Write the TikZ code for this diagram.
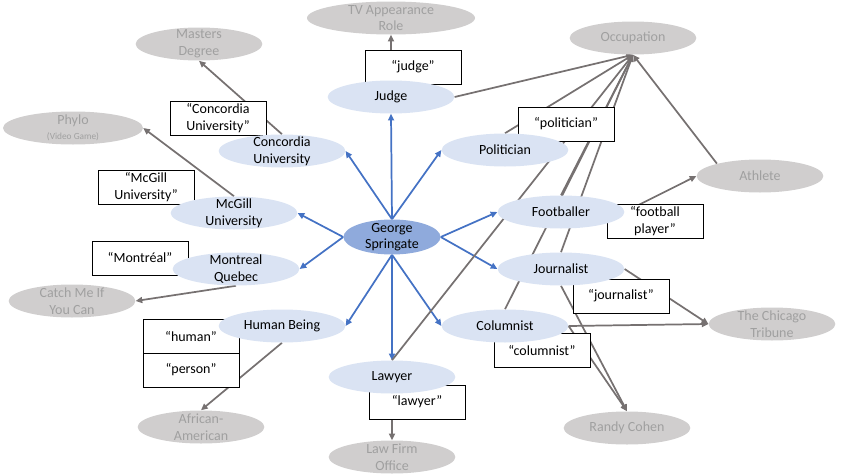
\documentclass[tikz,border=0pt]{standalone}
\usepackage{fontspec}
\setmainfont{Carlito}
\usetikzlibrary{arrows.meta,shapes.geometric,backgrounds}
\definecolor{entblue}{HTML}{DAE3F3}
\definecolor{hubblue}{HTML}{8FAADC}
\definecolor{relblue}{HTML}{4472C4}
\definecolor{clsgray}{HTML}{D0CECE}
\definecolor{clstext}{HTML}{A0A0A0}
\definecolor{lnkgray}{HTML}{767171}

\begin{document}
\begin{tikzpicture}[x=0.75pt, y=-0.75pt,
  every node/.style={font=\fontsize{10.5}{12.5}\selectfont, align=center},
  ent/.style={ellipse, fill=entblue, minimum width=95pt, minimum height=24.75pt, inner xsep=0pt, inner ysep=-3pt},
  hub/.style={ent, fill=hubblue, minimum width=72.75pt, minimum height=26.25pt},
  cls/.style={ent, fill=clsgray, text=clstext},
  lbl/.style={rectangle, draw=black, line width=0.75pt, fill=white, minimum width=72pt, minimum height=25.5pt, inner sep=0pt},
  rel/.style={draw=relblue, line width=1.3pt, -{Triangle[length=5pt,width=4.5pt]}},
  lnk/.style={draw=lnkgray, line width=1.3pt, -{Triangle[length=5pt,width=4.5pt]}}]
  \useasboundingbox (0,0) rectangle (844,475);

  % label boxes (under the ellipses)
  \node[lbl] (qjudge)      at (413,67)  {“judge”};
  \node[lbl] (qconcordia)  at (218,118) {“Concordia\\University”};
  \node[lbl] (qmcgill)     at (146,187) {“McGill\\University”};
  \node[lbl] (qmontreal)   at (140,258) {“Montréal”};
  \node[lbl] (qhuman)      at (191,336) {“human”};
  \node[lbl] (qperson)     at (191,370) {“person”};
  \node[lbl] (qlawyer)     at (417,402) {“lawyer”};
  \node[lbl] (qpolitician) at (566,124) {“politician”};
  \node[lbl] (qfootball)   at (655,221) {“football\\player”};
  \node[lbl] (qjournalist) at (621,296) {“journalist”};
  \node[lbl] (qcolumnist)  at (542,350) {“columnist”};

  % entity and its types
  \node[hub] (george)     at (392,237) {George\\Springate};
  \node[ent] (judge)      at (391,97)  {Judge};
  \node[ent] (concordia)  at (282,151) {Concordia\\University};
  \node[ent] (mcgill)     at (234,213) {McGill\\University};
  \node[ent] (montreal)   at (236,269) {Montreal\\Quebec};
  \node[ent] (human)      at (282,326) {Human Being};
  \node[ent] (lawyer)     at (392,377) {Lawyer};
  \node[ent] (columnist)  at (505,326) {Columnist};
  \node[ent] (journalist) at (561,269) {Journalist};
  \node[ent] (footballer) at (561,212) {Footballer};
  \node[ent] (politician) at (505,150) {Politician};

  % outer classes
  \node[cls, minimum width=126pt] (tv) at (391,18) {TV Appearance\\Role};
  \node[cls] (masters)    at (199,44)  {Masters\\Degree};
  \node[cls, minimum width=105pt] (phylo) at (73,128) {Phylo\\[-1pt]{\fontsize{7}{8}\selectfont(Video Game)}};
  \node[cls] (catchme)    at (72,301)  {Catch Me If\\You Can};
  \node[cls] (african)    at (201,427) {African-\\American};
  \node[cls] (lawfirm)    at (392,457) {Law Firm\\Office};
  \node[cls] (randy)      at (627,428) {Randy Cohen};
  \node[cls] (tribune)    at (772,324) {The Chicago\\Tribune};
  \node[cls] (athlete)    at (760,176) {Athlete};
  \node[cls] (occupation) at (633,38)  {Occupation};

  \begin{scope}[on background layer]
    % blue: entity to its types
    \foreach \a/\b in {north/judge.south, north/concordia.east, north/politician.west,
                       west/mcgill.east, west/montreal.east,
                       south/human.east, south/lawyer.north, south/columnist.west,
                       east/footballer.west, east/journalist.west}
      \draw[rel] (george.\a) -- (\b);
    % grey: types to classes
    \foreach \a/\b in {concordia.north/masters.south, mcgill.north/phylo.east,
                       montreal.south/catchme.east, human.south/african.north,
                       judge.north/tv.south, lawyer.south/lawfirm.north,
                       judge.east/occupation.south, politician.north/occupation.south,
                       footballer.north/occupation.south, journalist.north/occupation.south,
                       columnist.north/occupation.south, lawyer.north/occupation.south,
                       athlete.164/occupation.south, footballer.east/athlete.west,
                       journalist.east/tribune.west, columnist.east/tribune.west,
                       journalist.south/randy.north, columnist.east/randy.north}
      \draw[lnk] (\a) -- (\b);
  \end{scope}
\end{tikzpicture}
\end{document}
